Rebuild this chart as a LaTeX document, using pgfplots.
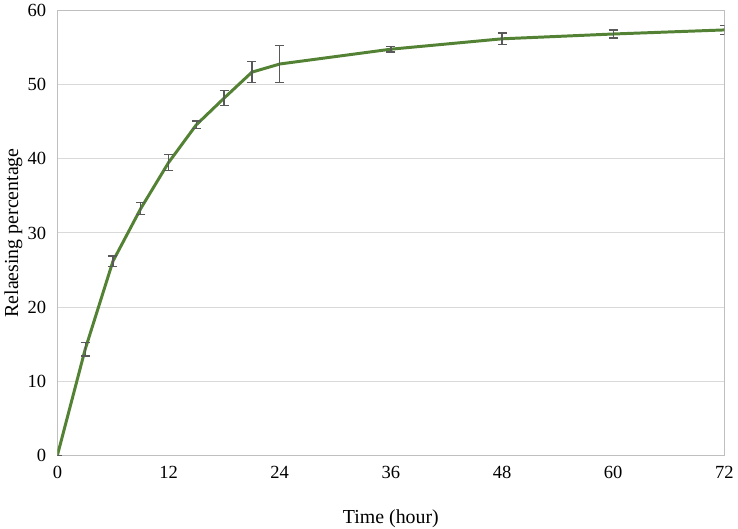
\documentclass[border=0pt]{standalone}
\usepackage{fontspec}
\setmainfont{Liberation Serif}
\usepackage{pgfplots}
\pgfplotsset{compat=1.18}
\definecolor{linegreen}{RGB}{84,130,53}
\definecolor{errgrey}{RGB}{89,89,89}
\definecolor{gridgrey}{RGB}{217,217,217}
\definecolor{framegrey}{RGB}{191,191,191}

\pgfplotstableread{
t y e
0 0 0
3 14.3 0.9
6 26.2 0.7
9 33.3 0.85
12 39.5 1.1
15 44.6 0.5
18 48.2 1.0
21 51.7 1.4
24 52.8 2.5
36 54.8 0.4
48 56.2 0.8
60 56.85 0.55
72 57.4 0.6
}\release

\begin{document}
\begin{tikzpicture}
\begin{axis}[
  scale only axis,
  width=504pt, height=336pt,
  xmin=0, xmax=72, ymin=0, ymax=60,
  xtick={0,12,24,36,48,60,72},
  ytick={0,10,20,30,40,50,60},
  major tick length=0pt,
  ymajorgrids,
  grid style={gridgrey, line width=0.75pt},
  axis line style={framegrey, line width=0.75pt},
  tick label style={font=\fontsize{14}{16}\selectfont},
  label style={font=\fontsize{15}{17}\selectfont},
  /pgf/number format/assume math mode=true,
  xticklabel style={yshift=-5pt},
  yticklabel style={xshift=-5pt},
  xlabel={Time (hour)},
  ylabel={Relaesing percentage},
  xlabel style={inner sep=0pt, yshift=-20pt},
  ylabel style={yshift=-3pt},
]
\addplot[linegreen, line width=2.25pt, no markers,
  error bars/.cd, y dir=both, y explicit,
  error bar style={errgrey, line width=1pt},
  error mark options={rotate=90, mark size=3.4pt, errgrey, line width=1pt}]
  table[x=t, y=y, y error=e] {\release};
\end{axis}
\end{tikzpicture}
\end{document}
